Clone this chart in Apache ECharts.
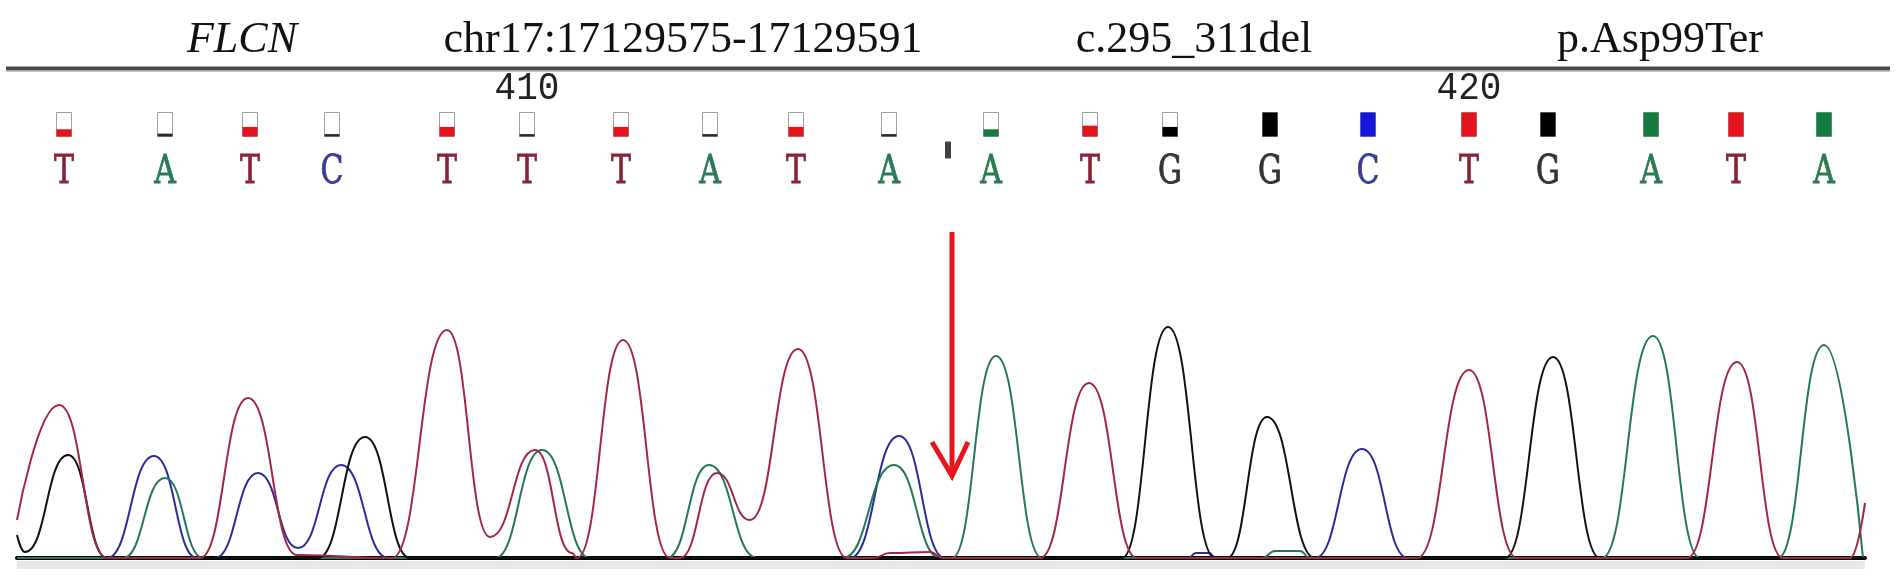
<!DOCTYPE html>
<html>
<head>
<meta charset="utf-8">
<script src="https://cdn.jsdelivr.net/npm/echarts@6/dist/echarts.min.js"></script>
<style>
html,body{margin:0;padding:0;background:#fff;}
#chart{width:1902px;height:578px;}
</style>
</head>
<body>
<div id="chart"></div>
<script>
// ---------- data ----------
const headerTexts = ['FLCN', 'chr17:17129575-17129591', 'c.295_311del', 'p.Asp99Ter'];
const bases = ['T','A','T','C','T','T','T','A','T','A','A','T','G','G','C','T','G','A','T','A'];
const basePos = [64,165,250,332,447,527,621,710,796,889,991,1090,1170,1270,1368,1469,1548,1651,1736,1824];
const baseQuality = [0.3,0.12,0.4,0.1,0.4,0.1,0.4,0.1,0.4,0.1,0.3,0.45,0.4,1,1,1,1,1,1,1];
const positionLabels = ['410','420'];
const positionBaseIndex = [5,15];
const deletionMark = [948];
// traces: [scan position, signal]
const traceT = [[17,38],[59,153],[107,0],[200,0],[248,160],[297,3],[392,0],[447,228],[490,21],[535,108],[572,5],[577,0],[623,218],[670,0],[680,0],[717,85],[750,38],[798,209],[847,0],[873,0],[890,5],[930,6],[943,0],[1040,0],[1089,175],[1137,0],[1417,0],[1469,188],[1517,0],[1687,0],[1737,196],[1783,0],[1850,0],[1865,55]];
const traceG = [[17,23],[25,6],[68,103],[107,0],[318,0],[365,121],[410,0],[1122,0],[1168,231],[1215,0],[1227,0],[1267,141],[1315,0],[1505,0],[1553,201],[1600,0],[1865,0]];
const traceC = [[17,0],[107,0],[154,102],[197,0],[215,0],[258,85],[298,10],[341,93],[388,0],[850,0],[899,122],[945,0],[1188,0],[1196,5],[1209,5],[1216,0],[1315,0],[1362,109],[1408,0],[1865,0]];
const traceA = [[17,0],[123,0],[165,80],[203,0],[495,0],[542,108],[590,0],[667,0],[709,93],[757,0],[843,0],[894,93],[940,0],[952,0],[996,202],[1042,0],[1262,0],[1275,7],[1300,7],[1310,0],[1602,0],[1653,222],[1700,0],[1778,0],[1824,213],[1863,0]];
const arrowShaft = [[952,326],[952,86]];
const arrowHead = [[932,116],[952,82],[968,116]];

// ---------- styles ----------
const traceColor = {T:'#a3283f', G:'#111111', C:'#2b2b9c', A:'#23775a'};
const barColor = {T:'#e3121c', G:'#000000', C:'#1515dc', A:'#137a42'};
const letterColor = {T:'#8a2236', G:'#333333', C:'#3b3b92', A:'#2a7a52'};
const ROW_POS = 89, ROW_SQ = 124.5, ROW_LET = 173, ROW_MARK = 150;

const chart = echarts.init(document.getElementById('chart'), null, {renderer:'canvas'});

function traceSeries(name, data, color){
  return {type:'line', name, data, xAxisIndex:0, yAxisIndex:0, showSymbol:false, symbol:'none',
    smooth:0.5, smoothMonotone:'x', lineStyle:{color, width:2}, silent:true, animation:false, z:3};
}

const headerX = [242, 683, 1194, 1660];

const option = {
  backgroundColor:'#ffffff',
  animation:false,
  grid:[
    {left:17, right:37, top:178, bottom:20},
    {left:17, right:37, top:60, height:140}
  ],
  xAxis:[
    {type:'value', gridIndex:0, min:17, max:1865, axisLine:{show:true, onZero:false, lineStyle:{color:'#000', width:4}},
     axisTick:{show:false}, axisLabel:{show:false}, splitLine:{show:false}},
    {type:'value', gridIndex:1, min:17, max:1865, show:false}
  ],
  yAxis:[
    {type:'value', gridIndex:0, min:0, max:380, show:false},
    {type:'value', gridIndex:1, min:60, max:200, inverse:true, show:false}
  ],
  graphic:[
    {type:'rect', shape:{x:17, y:561, width:1848, height:8}, style:{fill:'#e9e9e9'}, z:0},
    {type:'line', shape:{x1:6, y1:68.5, x2:1890, y2:68.5}, style:{stroke:'#4a4a4a', lineWidth:4}},
    {type:'line', shape:{x1:6, y1:71.5, x2:1890, y2:71.5}, style:{stroke:'#c8c8c8', lineWidth:1}},
    ...headerTexts.map((t,i)=>({type:'text', x:headerX[i], y:40,
      style:{text:t, fill:'#111', font:(i===0?'italic ':'')+'44px "Liberation Serif"',
        textAlign:'center', textVerticalAlign:'middle', align:'center', verticalAlign:'middle'}}))
  ],
  series:[
    traceSeries('C', traceC, traceColor.C),
    traceSeries('A', traceA, traceColor.A),
    traceSeries('G', traceG, traceColor.G),
    traceSeries('T', traceT, traceColor.T),
    {type:'line', data:arrowShaft, xAxisIndex:0, yAxisIndex:0, showSymbol:false, symbol:'none',
     lineStyle:{color:'#e8141c', width:5}, z:5, silent:true},
    {type:'line', data:arrowHead, xAxisIndex:0, yAxisIndex:0, showSymbol:false, symbol:'none',
     lineStyle:{color:'#e8141c', width:5, join:'miter'}, z:5, silent:true},
    {type:'custom', xAxisIndex:1, yAxisIndex:1, silent:true,
     data: basePos.map((p,i)=>[p, baseQuality[i], i]),
     renderItem:(params, api)=>{
       const i = api.value(2), q = api.value(1);
       const c = api.coord([api.value(0), ROW_SQ]);
       const w = 15, h = 24, b = bases[i];
       const fill = q < 0.2 ? '#2a2a2a' : barColor[b];
       return {type:'group', children:[
         {type:'rect', shape:{x:c[0]-w/2, y:c[1]-h/2, width:w, height:h}, style:{fill:'#fff', stroke:'#a0a0a0', lineWidth:1}},
         {type:'rect', shape:{x:c[0]-w/2, y:c[1]+h/2-h*q, width:w, height:h*q}, style:{fill}}
       ]};
     }},
    {type:'custom', xAxisIndex:1, yAxisIndex:1, silent:true,
     data: basePos.map((p,i)=>[p, i]),
     renderItem:(params, api)=>{
       const i = api.value(1);
       const c = api.coord([api.value(0), ROW_LET]);
       return {type:'text', x:c[0], y:c[1], scaleY:1.3,
         style:{text:bases[i], fill:letterColor[bases[i]], font:'30px "DejaVu Serif"',
           stroke:letterColor[bases[i]], lineWidth:0.6,
           textAlign:'center', textVerticalAlign:'middle', align:'center', verticalAlign:'middle'}};
     }},
    {type:'custom', xAxisIndex:1, yAxisIndex:1, silent:true,
     data: positionLabels.map((t,i)=>[basePos[positionBaseIndex[i]], i]),
     renderItem:(params, api)=>{
       const i = api.value(1);
       const c = api.coord([api.value(0), ROW_POS]);
       return {type:'text', x:c[0], y:c[1], scaleY:1.1,
         style:{text:positionLabels[i], fill:'#222', font:'36px "Liberation Mono"',
           textAlign:'center', textVerticalAlign:'middle', align:'center', verticalAlign:'middle'}};
     }},
    {type:'scatter', xAxisIndex:1, yAxisIndex:1, silent:true,
     data: deletionMark.map(x=>[x, ROW_MARK]), symbol:'rect', symbolSize:[6,17],
     itemStyle:{color:'#111'}}
  ]
};
chart.setOption(option);
</script>
</body>
</html>
